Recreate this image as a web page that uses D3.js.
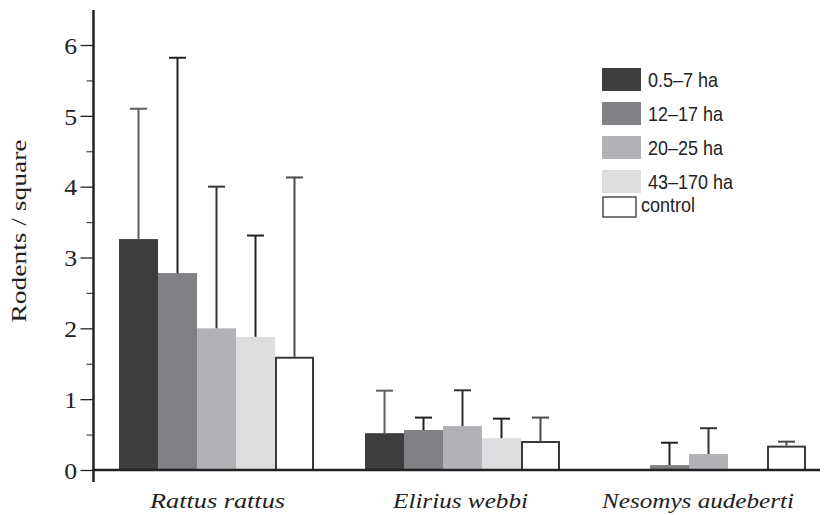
<!DOCTYPE html>
<html><head><meta charset="utf-8">
<script src="https://cdn.jsdelivr.net/npm/d3@7"></script>
<style>body{margin:0;background:#fff}</style>
</head><body>
<svg id="c" width="840" height="515"></svg>
<script>
const species = ["Rattus rattus", "Elirius webbi", "Nesomys audeberti"];
const sizeClasses = ["0.5–7 ha", "12–17 ha", "20–25 ha", "43–170 ha", "control"];
// mean values per size class, in species order
const means = {
  "0.5–7 ha":  [3.26, 0.52, 0],
  "12–17 ha":  [2.78, 0.565, 0.07],
  "20–25 ha":  [2.00, 0.62, 0.226],
  "43–170 ha": [1.88, 0.45, 0],
  "control":   [1.585, 0.395, 0.33]
};
// top of error bar (mean + SD)
const upper = {
  "0.5–7 ha":  [5.10, 1.12, null],
  "12–17 ha":  [5.82, 0.74, 0.385],
  "20–25 ha":  [4.00, 1.125, 0.59],
  "43–170 ha": [3.31, 0.725, null],
  "control":   [4.13, 0.74, 0.40]
};
const yTicks = [0, 1, 2, 3, 4, 5, 6];
const yMinorTicks = [0.5, 1.5, 2.5, 3.5, 4.5, 5.5];
const yTitle = "Rodents / square";

const fills = ["#3e3e3e", "#808184", "#b1b2b5", "#dcdddf", "#ffffff"];
const errColors = ["#5e5e5e", "#222222", "#333333", "#222222", "#4a4a4a"];
const SERIF = "'Liberation Serif', 'Times New Roman', serif";
const SANS = "'Liberation Sans', Arial, sans-serif";

const svg = d3.select("#c");
const y = d3.scaleLinear().domain([0, 6]).range([470, 45]);
const x0 = d3.scaleBand().domain(species).range([119, 119 + 246*3]).paddingInner(0).paddingOuter(0);
const x1 = d3.scaleBand().domain(sizeClasses).range([0, 195]).padding(0);

const data = [];
species.forEach((sp, i) => sizeClasses.forEach((sc, j) => {
  data.push({sp, sc, j, v: means[sc][i], u: upper[sc][i]});
}));

const g = svg.append("g");
g.selectAll("rect.bar").data(data.filter(d => d.v > 0)).join("rect")
  .attr("class", "bar")
  .attr("x", d => x0(d.sp) + x1(d.sc) + (d.sc === "control" ? 1 : 0))
  .attr("width", d => x1.bandwidth() - (d.sc === "control" ? 2 : 0))
  .attr("y", d => y(d.v))
  .attr("height", d => y(0) - y(d.v))
  .attr("fill", d => fills[d.j])
  .attr("stroke", d => d.sc === "control" ? "#3a3a3a" : "none")
  .attr("stroke-width", 2);

const eb = data.filter(d => d.u != null);
const cx = d => x0(d.sp) + x1(d.sc) + x1.bandwidth()/2;
g.selectAll("line.err").data(eb).join("line")
  .attr("x1", cx).attr("x2", cx)
  .attr("y1", d => y(d.v) - (d.sc === "control" ? 1 : 0))
  .attr("y2", d => y(d.u))
  .attr("stroke", d => errColors[d.j]).attr("stroke-width", 2);
g.selectAll("line.cap").data(eb).join("line")
  .attr("x1", d => cx(d) - 8.5).attr("x2", d => cx(d) + 8.5)
  .attr("y1", d => y(d.u)).attr("y2", d => y(d.u))
  .attr("stroke", d => errColors[d.j]).attr("stroke-width", 2);

// y axis
const yAxis = d3.axisLeft(y).tickValues(yTicks).tickSize(13).tickPadding(3).tickFormat(d3.format("d"));
const ya = svg.append("g").attr("transform", "translate(93.5,0)").call(yAxis);
ya.select(".domain").remove();
ya.selectAll(".tick line").attr("stroke", "#222").attr("stroke-width", 1.3);
ya.selectAll(".tick text")
  .style("font-family", SERIF).style("font-size", "23px").attr("fill", "#222")
  .attr("transform", "scale(1.12,1)").attr("x", -16.5/1.12).attr("dy", "0.36em");
const yMinor = d3.axisLeft(y).tickValues(yMinorTicks).tickSize(7).tickFormat("");
const ym = svg.append("g").attr("transform", "translate(93.5,0)").call(yMinor);
ym.select(".domain").remove();
ym.selectAll(".tick line").attr("stroke", "#444").attr("stroke-width", 1.2);
svg.append("line").attr("x1", 93.5).attr("x2", 93.5).attr("y1", 10).attr("y2", 482)
  .attr("stroke", "#222").attr("stroke-width", 2.5);

// x axis
svg.append("line").attr("x1", 92).attr("x2", 820).attr("y1", y(0)).attr("y2", y(0))
  .attr("stroke", "#222").attr("stroke-width", 2.5);
const xLabelShift = [1, -2, -10.5];
const xLabelLen = [135, 135, 192];
svg.selectAll("text.xl").data(species).join("text")
  .attr("class", "xl")
  .attr("x", (d, i) => x0(d) + 97.5 + xLabelShift[i]).attr("y", 508)
  .attr("text-anchor", "middle")
  .style("font-family", SERIF).style("font-style", "italic").style("font-size", "22px")
  .attr("textLength", (d, i) => xLabelLen[i]).attr("lengthAdjust", "spacingAndGlyphs")
  .attr("fill", "#222").text(d => d);

// y title
svg.append("text").attr("transform", "translate(26,231) rotate(-90)")
  .attr("text-anchor", "middle")
  .style("font-family", SERIF).style("font-size", "22px")
  .attr("textLength", 183).attr("lengthAdjust", "spacingAndGlyphs")
  .attr("fill", "#222").text(yTitle);

// legend
const lg = svg.append("g");
sizeClasses.forEach((sc, j) => {
  const top = 68 + 34 * j;
  if (sc === "control") {
    lg.append("rect").attr("x", 603).attr("y", top - 7).attr("width", 33).attr("height", 20)
      .attr("fill", "#fff").attr("stroke", "#333").attr("stroke-width", 1.3);
    lg.append("text").attr("transform", `translate(641,${top + 8}) scale(0.9,1)`)
      .style("font-family", SANS).style("font-size", "20px").attr("fill", "#222").text(sc);
  } else {
    lg.append("rect").attr("x", 602).attr("y", top).attr("width", 39).attr("height", 23).attr("fill", fills[j]);
    lg.append("text").attr("transform", `translate(648,${top + 19}) scale(0.9,1)`)
      .style("font-family", SANS).style("font-size", "20px").attr("fill", "#222").text(sc);
  }
});
</script>
</body></html>
